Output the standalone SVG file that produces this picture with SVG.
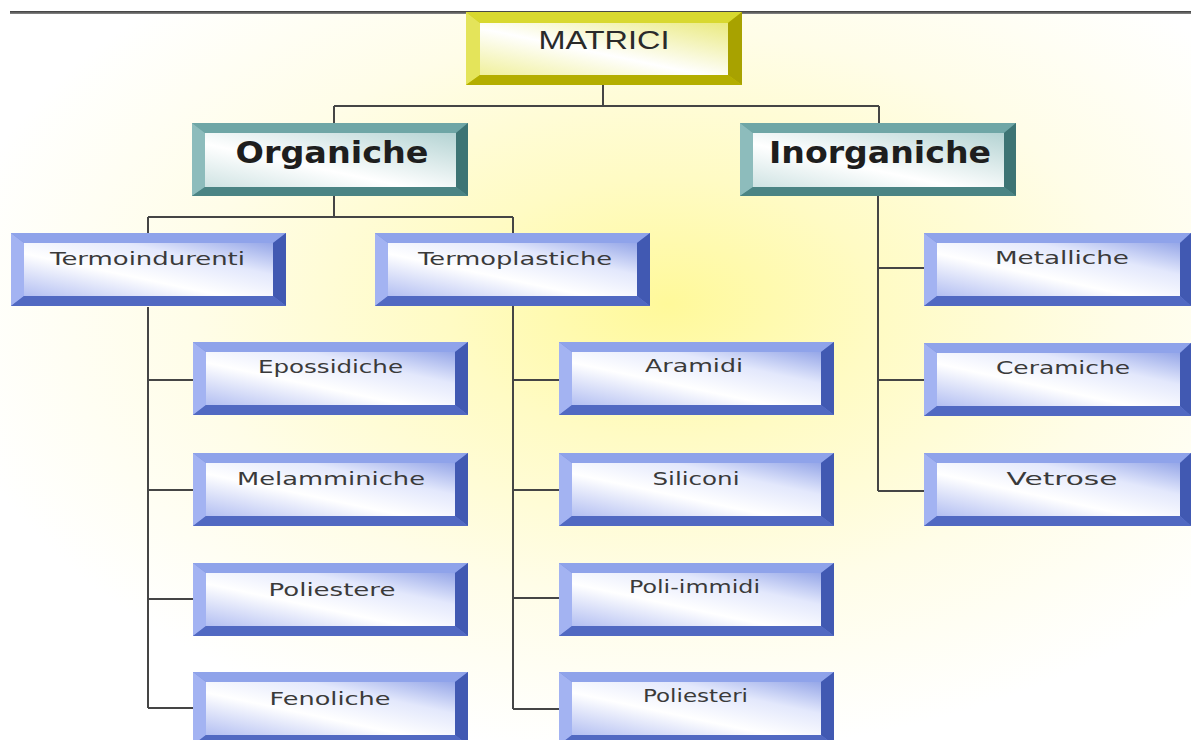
<svg xmlns="http://www.w3.org/2000/svg" xmlns:xlink="http://www.w3.org/1999/xlink" width="1191" height="740" viewBox="0 0 1191 740">
<defs>
<radialGradient id="bg" cx="0.55" cy="0.42" r="0.6" fx="0.56" fy="0.4">
<stop offset="0" stop-color="#fff99a"/>
<stop offset="0.3" stop-color="#fffbc4"/>
<stop offset="0.65" stop-color="#fffde8"/>
<stop offset="1" stop-color="#ffffff"/>
</radialGradient>
<linearGradient id="faceBlue" x1="0" y1="1" x2="1" y2="0">
<stop offset="0" stop-color="#b3bff2"/>
<stop offset="0.4" stop-color="#ffffff"/>
<stop offset="0.7" stop-color="#e3e8fc"/>
<stop offset="1" stop-color="#96a7e8"/>
</linearGradient>
<linearGradient id="faceTeal" x1="0" y1="1" x2="1" y2="0">
<stop offset="0" stop-color="#cfe3e3"/>
<stop offset="0.4" stop-color="#ffffff"/>
<stop offset="1" stop-color="#b4d3d3"/>
</linearGradient>
<linearGradient id="faceYellow" x1="0" y1="1" x2="1" y2="0">
<stop offset="0" stop-color="#f0f09c"/>
<stop offset="0.45" stop-color="#ffffff"/>
<stop offset="1" stop-color="#eaea80"/>
</linearGradient>
<linearGradient id="topline" x1="0" y1="0" x2="0" y2="1">
<stop offset="0" stop-color="#3a3a3a"/>
<stop offset="1" stop-color="#8a8a8a"/>
</linearGradient>
<g id="boxBlue">
<rect x="0" y="0" width="275" height="73" fill="#6c82d6"/>
<polygon points="0,0 275,0 262,10 13,10" fill="#8fa3ea"/>
<polygon points="0,0 13,10 13,63 0,73" fill="#a3b3f2"/>
<polygon points="275,0 275,73 262,63 262,10" fill="#4159b2"/>
<polygon points="0,73 13,63 262,63 275,73" fill="#5169c2"/>
<rect x="13" y="10" width="249" height="53" fill="url(#faceBlue)"/>
</g>
<g id="boxBlueR">
<rect x="0" y="0" width="267" height="73" fill="#6c82d6"/>
<polygon points="0,0 267,0 256,10 13,10" fill="#8fa3ea"/>
<polygon points="0,0 13,10 13,63 0,73" fill="#a3b3f2"/>
<polygon points="267,0 267,73 256,63 256,10" fill="#4159b2"/>
<polygon points="0,73 13,63 256,63 267,73" fill="#5169c2"/>
<rect x="13" y="10" width="243" height="53" fill="url(#faceBlue)"/>
</g>
<g id="boxTeal">
<rect x="0" y="0" width="276" height="73" fill="#5e9696"/>
<polygon points="0,0 276,0 264,10 13,10" fill="#6fa6a6"/>
<polygon points="0,0 13,10 13,64 0,73" fill="#8dbcbc"/>
<polygon points="276,0 276,73 264,64 264,10" fill="#3d7474"/>
<polygon points="0,73 13,64 264,64 276,73" fill="#4b8484"/>
<rect x="13" y="10" width="251" height="54" fill="url(#faceTeal)"/>
</g>
<g id="boxYellow">
<rect x="0" y="0" width="276" height="73" fill="#c8c400"/>
<polygon points="0,0 276,0 262,11 14,11" fill="#d8d830"/>
<polygon points="0,0 14,11 14,63 0,73" fill="#e4e45a"/>
<polygon points="276,0 276,73 262,63 262,11" fill="#a8a200"/>
<polygon points="0,73 14,63 262,63 276,73" fill="#b4ae00"/>
<rect x="14" y="11" width="248" height="52" fill="url(#faceYellow)"/>
</g>
</defs>
<style>
.lbl{font-family:"DejaVu Sans",Verdana,sans-serif;font-size:18.5px;fill:#3a3a3a;text-anchor:middle}
.big{font-family:"DejaVu Sans",Verdana,sans-serif;font-size:30px;font-weight:bold;fill:#1e1e1e;text-anchor:middle}
.top{font-family:"Liberation Sans",Arial,sans-serif;font-size:25px;fill:#2a2a2a;text-anchor:middle}
.conn{stroke:#454545;stroke-width:2;fill:none}
</style>
<rect x="0" y="0" width="1191" height="740" fill="#ffffff"/>
<rect x="0" y="13" width="1191" height="727" fill="url(#bg)"/>
<rect x="10" y="11" width="1181" height="3" fill="url(#topline)"/>

<g id="connectors" class="conn">
<path d="M603,85 V106 M334,106 H879 M334,106 V123 M879,106 V123"/>
<path d="M334,196 V217 M148,217 H513 M148,217 V233 M513,217 V233"/>
<path d="M148,307 V708 M148,380 H193 M148,490 H193 M148,599 H193 M148,708 H193"/>
<path d="M513,306 V709 M513,380 H559 M513,490 H559 M513,598 H559 M513,709 H559"/>
<path d="M878,196 V491 M878,268 H924 M878,380 H924 M878,491 H924"/>
</g>

<g id="matrici" transform="translate(466,12)">
<use xlink:href="#boxYellow"/>
<text class="top" x="138" y="37" textLength="131" lengthAdjust="spacingAndGlyphs">MATRICI</text>
</g>
<g id="organiche" transform="translate(192,123)">
<use xlink:href="#boxTeal"/>
<text class="big" x="140" y="40" textLength="193" lengthAdjust="spacingAndGlyphs">Organiche</text>
</g>
<g id="inorganiche" transform="translate(740,123)">
<use xlink:href="#boxTeal"/>
<text class="big" x="140" y="40" textLength="222" lengthAdjust="spacingAndGlyphs">Inorganiche</text>
</g>
<g id="termoindurenti" transform="translate(11,233)">
<use xlink:href="#boxBlue"/>
<text class="lbl" x="136.5" y="32" textLength="195" lengthAdjust="spacingAndGlyphs">Termoindurenti</text>
</g>
<g id="termoplastiche" transform="translate(375,233)">
<use xlink:href="#boxBlue"/>
<text class="lbl" x="140" y="32" textLength="194" lengthAdjust="spacingAndGlyphs">Termoplastiche</text>
</g>
<g id="epossidiche" transform="translate(193,342)">
<use xlink:href="#boxBlue"/>
<text class="lbl" x="137.5" y="31" textLength="145" lengthAdjust="spacingAndGlyphs">Epossidiche</text>
</g>
<g id="melamminiche" transform="translate(193,453)">
<use xlink:href="#boxBlue"/>
<text class="lbl" x="138" y="32" textLength="188" lengthAdjust="spacingAndGlyphs">Melamminiche</text>
</g>
<g id="poliestere" transform="translate(193,563)">
<use xlink:href="#boxBlue"/>
<text class="lbl" x="139" y="33" textLength="127" lengthAdjust="spacingAndGlyphs">Poliestere</text>
</g>
<g id="fenoliche" transform="translate(193,672)">
<use xlink:href="#boxBlue"/>
<text class="lbl" x="137" y="33" textLength="121" lengthAdjust="spacingAndGlyphs">Fenoliche</text>
</g>
<g id="aramidi" transform="translate(559,342)">
<use xlink:href="#boxBlue"/>
<text class="lbl" x="135" y="30" textLength="98" lengthAdjust="spacingAndGlyphs">Aramidi</text>
</g>
<g id="siliconi" transform="translate(559,453)">
<use xlink:href="#boxBlue"/>
<text class="lbl" x="137" y="32" textLength="87" lengthAdjust="spacingAndGlyphs">Siliconi</text>
</g>
<g id="poli-immidi" transform="translate(559,563)">
<use xlink:href="#boxBlue"/>
<text class="lbl" x="135.5" y="30" textLength="131" lengthAdjust="spacingAndGlyphs">Poli-immidi</text>
</g>
<g id="poliesteri" transform="translate(559,672)">
<use xlink:href="#boxBlue"/>
<text class="lbl" x="136.5" y="30" textLength="105" lengthAdjust="spacingAndGlyphs">Poliesteri</text>
</g>
<g id="metalliche" transform="translate(924,233)">
<use xlink:href="#boxBlueR"/>
<text class="lbl" x="138" y="31" textLength="134" lengthAdjust="spacingAndGlyphs">Metalliche</text>
</g>
<g id="ceramiche" transform="translate(924,343)">
<use xlink:href="#boxBlueR"/>
<text class="lbl" x="139" y="31" textLength="134" lengthAdjust="spacingAndGlyphs">Ceramiche</text>
</g>
<g id="vetrose" transform="translate(924,453)">
<use xlink:href="#boxBlueR"/>
<text class="lbl" x="138" y="32" textLength="111" lengthAdjust="spacingAndGlyphs">Vetrose</text>
</g>
</svg>
